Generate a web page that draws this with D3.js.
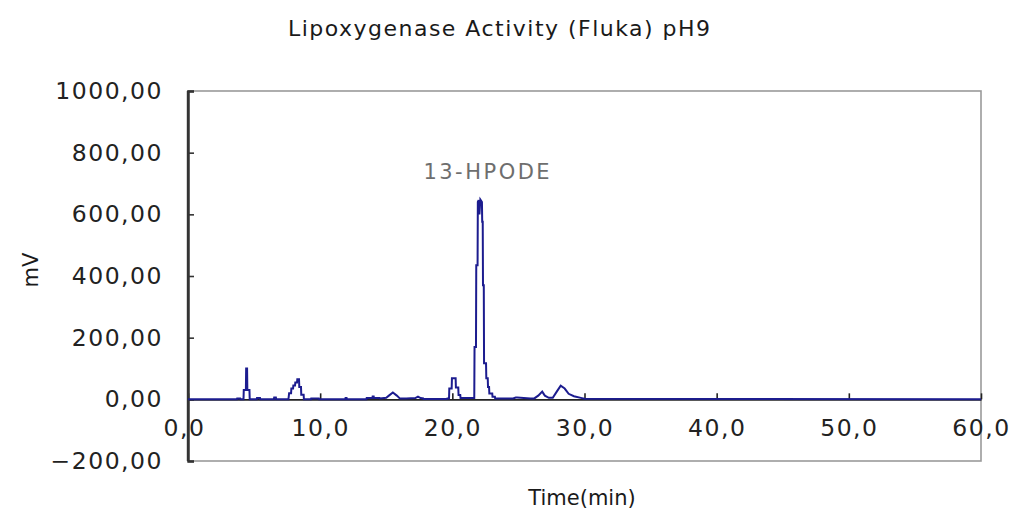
<!DOCTYPE html>
<html>
<head>
<meta charset="utf-8">
<script src="https://cdn.jsdelivr.net/npm/d3@7/dist/d3.min.js"></script>
<style>
  html, body { margin: 0; padding: 0; background: #fff; }
  svg { display: block; }
  text { font-family: "DejaVu Sans", "Liberation Sans", sans-serif; }
</style>
</head>
<body>
<svg id="chart" width="1016" height="516"></svg>
<script>
// Chromatogram trace: retention time (min) and detector signal (mV)
const timeMin = [
  0, 3.7, 3.72, 3.95, 3.97, 4.2, 4.22, 4.38, 4.4, 4.47, 4.49, 4.65, 4.67,
  5.2, 5.22, 5.45, 5.47, 6.5, 6.52, 6.65, 6.67,
  7.6, 7.65, 7.8, 7.82, 7.95, 7.97, 8.1, 8.12, 8.25, 8.27, 8.4, 8.42, 8.55, 8.57, 8.75, 8.77,
  9.3, 9.32, 9.9, 9.92, 11.9, 11.92, 12.0, 12.02,
  13.5, 13.52, 13.95, 13.97, 14.05, 14.07, 14.5, 14.52, 15.0, 15.2, 15.5, 15.8, 16.0, 16.02,
  16.5, 16.52, 17.2, 17.4, 17.6, 17.8, 17.82, 19.6, 19.62,
  19.75, 19.77, 19.95, 19.97, 20.25, 20.27, 20.45, 20.47, 20.6, 20.62, 21.66,
  21.68, 21.79, 21.81, 21.91, 21.93, 21.99, 22.05, 22.12, 22.24, 22.26, 22.3, 22.32,
  22.38, 22.4, 22.55, 22.57, 22.68, 22.7, 22.78, 22.8, 23.02, 23.04, 23.22, 23.24,
  24.5, 24.6, 24.8, 24.9, 25.9, 26.2, 26.5, 26.8, 27.0, 27.3, 27.6, 27.9, 28.2,
  28.5, 28.8, 29.2, 29.8, 30.0, 60
];
const signalMv = [
  0, 0, 3, 3, 0, 0, 30, 30, 100, 100, 30, 30, 0,
  0, 4, 4, 0, 0, 6, 6, 0,
  0, 20, 20, 35, 35, 45, 45, 55, 55, 65, 65, 40, 40, 15, 15, 0,
  0, 3, 3, 0, 0, 4, 4, 0,
  0, 4, 4, 9, 9, 4, 4, 3, 5, 12, 22, 12, 4, 3,
  3, 3, 4, 9, 4, 3, 1, 1, 3,
  3, 35, 35, 68, 68, 38, 38, 14, 14, 4, 4,
  170, 170, 435, 435, 640, 646, 600, 648, 640, 576, 576, 370, 370,
  117, 117, 68, 68, 40, 40, 19, 19, 8, 8, 3, 3,
  3, 6, 6, 3, 3, 12, 25, 12, 5, 5, 25, 44, 35,
  18, 10, 4, 2, 0, 0
];

// Axis ticks and labels
const xTicks = [0, 10, 20, 30, 40, 50, 60];
const xTickLabels = ["0,0", "10,0", "20,0", "30,0", "40,0", "50,0", "60,0"];
const yTicks = [-200, 0, 200, 400, 600, 800, 1000];
const yTickLabels = ["\u2212200,00", "0,00", "200,00", "400,00", "600,00", "800,00", "1000,00"];

// Peak annotation
const peakLabel = "13-HPODE";
const peakTime = 22.0;
const peakValue = 646;

const titleText = "Lipoxygenase Activity (Fluka) pH9";
const xTitle = "Time(min)";
const yTitle = "mV";

const svg = d3.select("#chart");
const plot = { left: 188, right: 981, top: 91, bottom: 461 };

const x = d3.scaleLinear().domain([0, 60]).range([plot.left, plot.right]);
const y = d3.scaleLinear().domain([-200, 1000]).range([plot.bottom, plot.top]);

// Plot frame (top, right, bottom)
svg.append("rect")
  .attr("x", plot.left).attr("y", plot.top)
  .attr("width", plot.right - plot.left).attr("height", plot.bottom - plot.top)
  .attr("fill", "none").attr("stroke", "#9a9a9a").attr("stroke-width", 1.6);

// Y axis with inward ticks
const yAxis = d3.axisLeft(y)
  .tickValues(yTicks)
  .tickFormat((d, i) => yTickLabels[i])
  .tickSize(-6)
  .tickPadding(25);
const gy = svg.append("g").attr("transform", `translate(${plot.left},0)`).call(yAxis);
gy.select(".domain").attr("stroke", "#333").attr("stroke-width", 2.4);
gy.selectAll(".tick line").attr("stroke", "#333").attr("stroke-width", 1.6);
gy.selectAll(".tick text")
  .attr("font-size", 23.5).attr("fill", "#222").attr("letter-spacing", 1.5)
  .attr("font-family", "DejaVu Sans");

// X axis crossing at 0 mV, ticks pointing up
const xAxis = d3.axisBottom(x)
  .tickValues(xTicks)
  .tickFormat((d, i) => xTickLabels[i])
  .tickSizeInner(-6)
  .tickSizeOuter(0)
  .tickPadding(20);
const gx = svg.append("g").attr("transform", `translate(0,${y(0)})`).call(xAxis);
gx.select(".domain").attr("stroke", "#222").attr("stroke-width", 1.6);
gx.selectAll(".tick line").attr("stroke", "#222").attr("stroke-width", 1.6);
gx.selectAll(".tick text")
  .attr("font-size", 23.5).attr("fill", "#222").attr("letter-spacing", 1.5)
  .attr("font-family", "DejaVu Sans")
  .attr("dx", (d, i) => (i === 0 ? -4 : 0));

// Redraw the y axis line over the "0,0" label
svg.append("line")
  .attr("x1", plot.left).attr("x2", plot.left)
  .attr("y1", plot.top).attr("y2", plot.bottom)
  .attr("stroke", "#333").attr("stroke-width", 2.4);

// Chromatogram trace
const points = timeMin.map((t, i) => [t, signalMv[i]]);
const line = d3.line().x(d => x(d[0])).y(d => y(d[1]));
svg.append("path")
  .datum(points)
  .attr("d", line)
  .attr("fill", "none")
  .attr("stroke", "#1c1c8f")
  .attr("stroke-width", 2)
  .attr("stroke-linejoin", "miter");

// Peak label
svg.append("text")
  .attr("x", x(peakTime) + 9)
  .attr("y", y(peakValue) - 21)
  .attr("text-anchor", "middle")
  .attr("font-size", 21)
  .attr("letter-spacing", 2.5)
  .attr("fill", "#6e6e6e")
  .text(peakLabel);

// Title
svg.append("text")
  .attr("x", 499).attr("y", 36)
  .attr("text-anchor", "middle")
  .attr("font-size", 22)
  .attr("fill", "#1a1a1a")
  .attr("textLength", 422).attr("lengthAdjust", "spacing")
  .text(titleText);

// Axis titles
svg.append("text")
  .attr("x", 582).attr("y", 505)
  .attr("text-anchor", "middle")
  .attr("font-size", 21)
  .attr("fill", "#1a1a1a")
  .text(xTitle);

svg.append("text")
  .attr("transform", "translate(38,270) rotate(-90)")
  .attr("text-anchor", "middle")
  .attr("font-size", 21)
  .attr("fill", "#1a1a1a")
  .text(yTitle);
</script>
</body>
</html>
